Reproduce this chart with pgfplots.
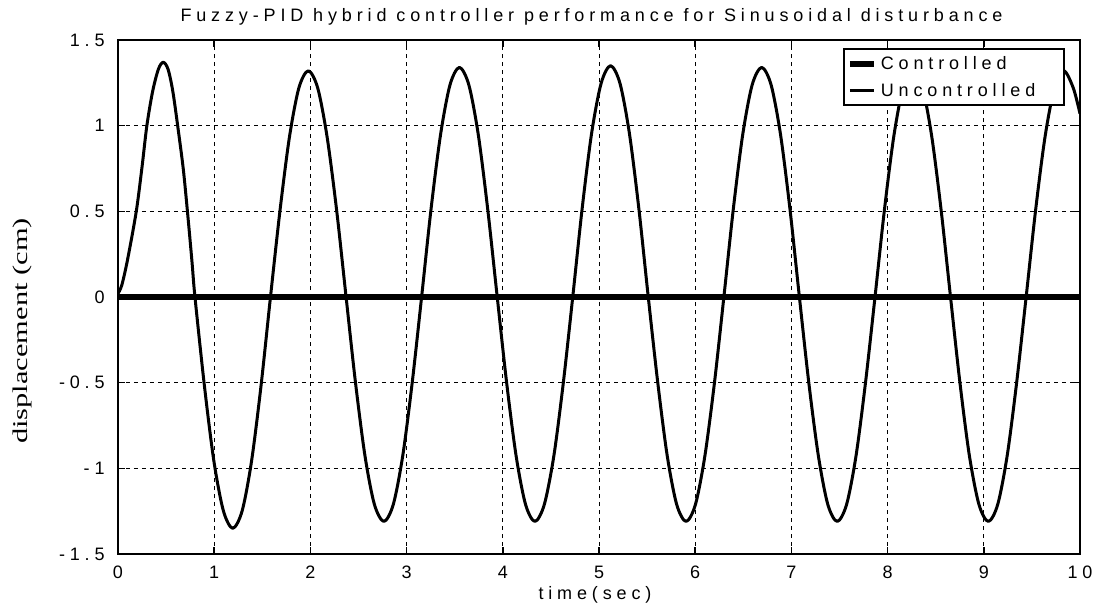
\documentclass[border=0pt]{standalone}
\usepackage{fontspec}
\setmainfont{Liberation Sans}
\newfontfamily\spc[LetterSpace=27]{Liberation Sans}
\newfontfamily\ylab[FakeStretch=1.45]{Liberation Serif}
\usepackage{pgfplots}
\pgfplotsset{compat=1.18}
\begin{document}
\begin{tikzpicture}
\useasboundingbox (-59pt,-29pt) rectangle (489pt,277pt);
\begin{axis}[
  at={(0pt,0pt)}, anchor=south west,
  scale only axis, width=481pt, height=257pt,
  xmin=0, xmax=10, ymin=-1.5, ymax=1.5,
  xtick={0,1,2,3,4,5,6,7,8,9,10},
  xticklabels={0,1,2,3,4,5,6,7,8,9,10},
  ytick={-1.5,-1,-0.5,0,0.5,1,1.5},
  yticklabels={-1.5,-1,-0.5,0,0.5,1,1.5},
  grid=major,
  major grid style={black, line width=0.5pt, dash pattern=on 2pt off 2pt},
  axis line style={line width=0.8pt},
  tick style={black, line width=0.8pt},
  tick align=inside, major tick length=3.5pt, tick pos=both,
  ticklabel style={font=\spc\fontsize{9}{10.8}\selectfont},
  xticklabel style={inner sep=0pt, anchor=center, yshift=-9pt},
  yticklabel style={inner sep=0pt, anchor=east, xshift=-6.5pt},
  title={Fuzzy-PID hybrid controller performance for Sinusoidal disturbance},
  title style={font=\spc\fontsize{9}{10.8}\selectfont, at={(axis description cs:0.4922,1.0447)}, anchor=center, yshift=-6pt, inner sep=0pt},
  xlabel={time(sec)},
  xlabel style={font=\spc\fontsize{9}{10.8}\selectfont, at={(axis description cs:0.4958,-0.0798)}, anchor=center, inner sep=0pt},
  ylabel={displacement (cm)},
  ylabel style={font=\ylab\fontsize{10.5}{12}\selectfont, at={(axis description cs:-0.0993,0.434)}, anchor=center, inner sep=0pt},
  legend style={at={(axis description cs:0.984,0.984)}, anchor=north east, draw=black, line width=0.8pt, fill=white,
    font=\spc\fontsize{9}{10.8}\selectfont, inner sep=1.5pt, row sep=2pt,
    nodes={inner sep=2pt, text height=6.5pt, text depth=1pt}},
  legend cell align=left,
  legend image code/.code={\draw[#1] (0pt,0pt) -- (12pt,0pt);},
]
\addplot[black, line width=3pt] coordinates {(0,0) (10,0)};
\addlegendentry{\makebox[88pt][l]{Controlled}}
\addplot[black, line width=1.5pt, smooth, line join=round] coordinates {
(0,0.02) (0.04,0.07) (0.1,0.22) (0.19,0.5) (0.25,0.76) (0.30,1.0) (0.36,1.2) (0.42,1.33) (0.47,1.37) (0.52,1.33) (0.57,1.2) (0.625,0.98) (0.68,0.74) (0.73,0.45) (0.77,0.2) (0.8,0)
(0.898,-0.517) (0.996,-0.955) (1.095,-1.247) (1.193,-1.35) (1.291,-1.247) (1.389,-0.955) (1.487,-0.517) (1.585,0)
(1.684,0.505) (1.782,0.933) (1.880,1.220) (1.978,1.32) (2.076,1.220) (2.174,0.933) (2.273,0.505) (2.371,0)
(2.469,-0.501) (2.567,-0.926) (2.665,-1.210) (2.764,-1.31) (2.862,-1.210) (2.960,-0.926) (3.058,-0.501) (3.156,0)
(3.254,0.513) (3.353,0.948) (3.451,1.238) (3.549,1.34) (3.647,1.238) (3.745,0.948) (3.843,0.513) (3.942,0)
(4.040,-0.501) (4.138,-0.926) (4.236,-1.210) (4.334,-1.31) (4.432,-1.210) (4.531,-0.926) (4.629,-0.501) (4.727,0)
(4.825,0.517) (4.923,0.955) (5.022,1.247) (5.120,1.35) (5.218,1.247) (5.316,0.955) (5.414,0.517) (5.512,0)
(5.611,-0.501) (5.709,-0.926) (5.807,-1.210) (5.905,-1.31) (6.003,-1.210) (6.101,-0.926) (6.200,-0.501) (6.298,0)
(6.396,0.513) (6.494,0.948) (6.592,1.238) (6.691,1.34) (6.789,1.238) (6.887,0.948) (6.985,0.513) (7.083,0)
(7.181,-0.501) (7.280,-0.926) (7.378,-1.210) (7.476,-1.31) (7.574,-1.210) (7.672,-0.926) (7.770,-0.501) (7.869,0)
(7.967,0.509) (8.065,0.940) (8.163,1.229) (8.261,1.33) (8.360,1.229) (8.458,0.940) (8.556,0.509) (8.654,0)
(8.752,-0.501) (8.850,-0.926) (8.949,-1.210) (9.047,-1.31) (9.145,-1.210) (9.243,-0.926) (9.341,-0.501) (9.440,0)
(9.538,0.505) (9.636,0.933) (9.734,1.220) (9.832,1.32) (9.930,1.220) (10,1.07)
};
\addlegendentry{\makebox[88pt][l]{Uncontrolled}}
\end{axis}
\end{tikzpicture}
\end{document}
